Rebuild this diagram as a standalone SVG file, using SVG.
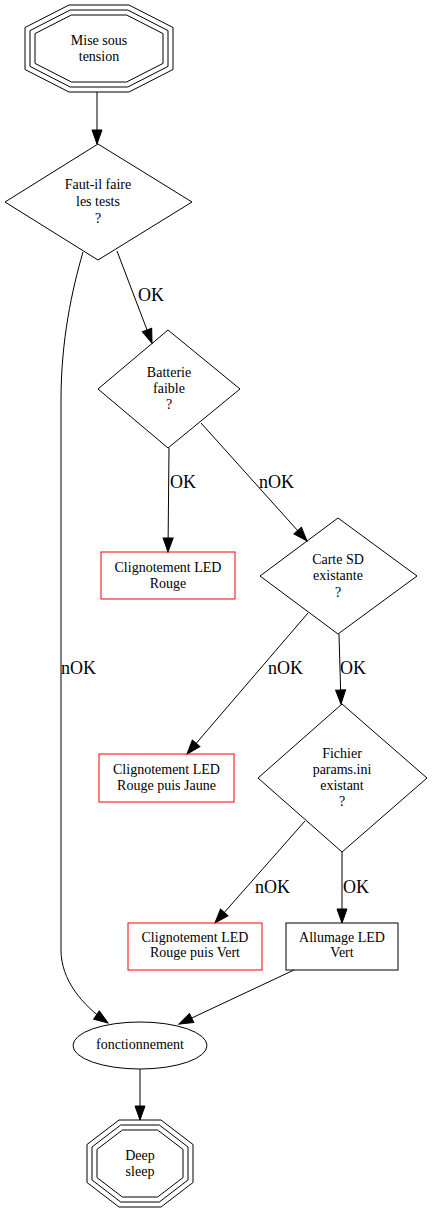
<svg xmlns="http://www.w3.org/2000/svg" width="432" height="1213" viewBox="0 0 432 1213">
<style>
.n{fill:none;stroke:#000;stroke-width:1}
.r{fill:none;stroke:#ff0000;stroke-width:1}
.t{font-family:"Liberation Serif","Times New Roman",serif;font-size:14px;text-anchor:middle;fill:#000}
.l{font-family:"Liberation Serif","Times New Roman",serif;font-size:18px;fill:#000}
.e{fill:none;stroke:#000;stroke-width:1;marker-end:url(#a)}
</style>
<defs>
<marker id="a" markerUnits="userSpaceOnUse" markerWidth="14" markerHeight="10" refX="14" refY="5" orient="auto" overflow="visible">
<path d="M0,0 L14,5 L0,10 Z" fill="#000" stroke="#000" stroke-width="1"/>
</marker>
</defs>
<rect width="432" height="1213" fill="#fff"/>
<g id="connectors">
<path class="e" d="M97,92 L97,144"/>
<path class="e" d="M117,251 L152,343"/>
<text class="l" x="138" y="301">OK</text>
<path class="e" d="M83,252 C72,290 61,340 61,400 L61,950 C61,980 82,1005 108,1023"/>
<text class="l" x="61" y="674">nOK</text>
<path class="e" d="M169,448 L168,552"/>
<text class="l" x="170" y="488">OK</text>
<path class="e" d="M201,423 L307,541"/>
<text class="l" x="259" y="488">nOK</text>
<path class="e" d="M308,613 L187,754"/>
<text class="l" x="268" y="674">nOK</text>
<path class="e" d="M339,634 L341,704"/>
<text class="l" x="340" y="674">OK</text>
<path class="e" d="M305,821 L215,923"/>
<text class="l" x="255" y="893">nOK</text>
<path class="e" d="M342,852 L342,923"/>
<text class="l" x="343" y="893">OK</text>
<path class="e" d="M294,970 L179,1024"/>
<path class="e" d="M140,1069 L140,1120"/>
</g>
<g id="mise_sous_tension">
<polygon class="n" points="129,5 173,27.5 173,69.5 129,92 69,92 25,69.5 25,27.5 69,5"/>
<polygon class="n" points="127.8,10 168,30.6 168,66.4 127.8,87 70.2,87 30,66.4 30,30.6 70.2,10"/>
<polygon class="n" points="126.6,15 163,33.6 163,63.4 126.6,82 71.4,82 35,63.4 35,33.6 71.4,15"/>
<text class="t" x="99" y="45">Mise sous</text>
<text class="t" x="99" y="61">tension</text>
</g>
<g id="faut_il_faire_les_tests">
<polygon class="n" points="98,144 192,202 98,260 5,202"/>
<text class="t" x="98" y="189">Faut-il faire</text>
<text class="t" x="98" y="206">les tests</text>
<text class="t" x="98" y="223">?</text>
</g>
<g id="batterie_faible">
<polygon class="n" points="168,330 240,389 168,448 98,389"/>
<text class="t" x="169" y="377">Batterie</text>
<text class="t" x="169" y="393">faible</text>
<text class="t" x="169" y="409">?</text>
</g>
<g id="clignotement_rouge">
<rect class="r" x="101" y="552" width="134" height="47"/>
<text class="t" x="168" y="572">Clignotement LED</text>
<text class="t" x="168" y="588">Rouge</text>
</g>
<g id="carte_sd_existante">
<polygon class="n" points="338,518 417,576 338,634 260,576"/>
<text class="t" x="338" y="564">Carte SD</text>
<text class="t" x="338" y="580">existante</text>
<text class="t" x="338" y="597">?</text>
</g>
<g id="clignotement_rouge_jaune">
<rect class="r" x="99" y="754" width="135" height="48"/>
<text class="t" x="166.5" y="774">Clignotement LED</text>
<text class="t" x="166.5" y="790">Rouge puis Jaune</text>
</g>
<g id="fichier_params_ini_existant">
<polygon class="n" points="342,704 427,778 342,852 258,778"/>
<text class="t" x="342" y="758">Fichier</text>
<text class="t" x="342" y="774">params.ini</text>
<text class="t" x="342" y="790">existant</text>
<text class="t" x="342" y="806">?</text>
</g>
<g id="clignotement_rouge_vert">
<rect class="r" x="128" y="923" width="134" height="47"/>
<text class="t" x="195" y="942">Clignotement LED</text>
<text class="t" x="195" y="957">Rouge puis Vert</text>
</g>
<g id="allumage_led_vert">
<rect class="n" x="286" y="923" width="112" height="47"/>
<text class="t" x="342" y="942">Allumage LED</text>
<text class="t" x="342" y="957">Vert</text>
</g>
<g id="fonctionnement">
<ellipse class="n" cx="140" cy="1045.5" rx="67" ry="23.5"/>
<text class="t" x="140" y="1049">fonctionnement</text>
</g>
<g id="deep_sleep">
<polygon class="n" points="161,1120 193,1144.5 193,1182.5 161,1207 119,1207 87,1182.5 87,1144.5 119,1120"/>
<polygon class="n" points="159.3,1125 188,1147 188,1180 159.3,1202 120.7,1202 92,1180 92,1147 120.7,1125"/>
<polygon class="n" points="157.6,1130 183,1149.4 183,1177.6 157.6,1197 122.4,1197 97,1177.6 97,1149.4 122.4,1130"/>
<text class="t" x="140" y="1160">Deep</text>
<text class="t" x="140" y="1176">sleep</text>
</g>
</svg>
